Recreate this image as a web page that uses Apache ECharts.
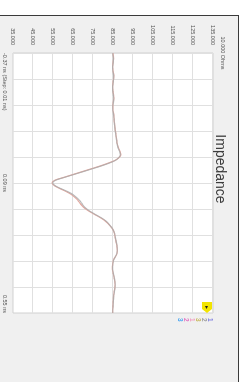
<!DOCTYPE html>
<html><head><meta charset="utf-8">
<script src="https://cdn.jsdelivr.net/npm/echarts@6/dist/echarts.min.js"></script>
<style>
html,body{margin:0;padding:0;background:#fff;width:247px;height:382px;overflow:hidden}
#rot{position:absolute;left:0;top:0;width:382px;height:247px;transform-origin:0 0;transform:translate(247px,0) rotate(90deg);background:#fff}
#panel{position:absolute;left:15px;top:8px;width:400px;height:300px;background:#f0f0f0;border-left:1.5px solid #3a3a3a;border-top:1.5px solid #3a3a3a}
#chart{position:absolute;left:0;top:0;width:382px;height:247px}
</style></head><body>
<div id="rot"><div id="panel"></div><div id="chart"></div></div>
<script>
const TITLE = 'Impedance';
const Y_NAME = '10.000 Ohms';
const STEPS = 92;            // number of 0.01 ns steps across the trace
const OHM_MIN = 35, OHM_MAX = 135, OHM_DIV = 10;
const X_TICK_LABELS = ['-0.37 ns (Step: 0.01 ns)', '0.09 ns', '0.55 ns'];
const X_TICK_STEPS = [0, 46, 92];

const traceA = [
 85.0, 85.2, 85.3, 85.1, 84.9, 84.8, 85.0, 85.2, 85.4, 85.3,
 85.1, 84.9, 84.8, 84.9, 85.1, 85.3, 85.4, 85.2, 85.0, 84.9,
 85.0, 85.2, 85.4, 85.5, 85.6, 85.8, 85.9, 86.1, 86.3, 86.5,
 86.7, 86.9, 87.1, 87.5, 88.0, 88.6, 88.9, 88.0, 86.0, 82.5,
 78.5, 74.0, 69.5, 65.0, 60.5, 56.0, 54.5, 55.8, 58.5, 61.5,
 64.0, 65.8, 67.3, 68.3, 69.5, 71.0, 73.0, 75.5, 78.0, 80.3,
 82.0, 83.3, 84.5, 85.3, 85.8, 86.0, 86.3, 86.6, 86.9, 87.1,
 87.2, 87.0, 86.3, 85.4, 85.0, 84.8, 84.7, 84.8, 85.1, 85.4,
 85.7, 85.9, 86.0, 85.9, 85.7, 85.5, 85.3, 85.2, 85.1, 85.0,
 84.9, 84.8, 84.8
];
const traceB = [
 84.9, 85.0, 85.2, 85.2, 85.0, 84.8, 84.9, 85.1, 85.3, 85.4,
 85.2, 85.0, 84.8, 84.8, 85.0, 85.2, 85.4, 85.3, 85.1, 84.9,
 84.9, 85.1, 85.3, 85.5, 85.6, 85.7, 85.9, 86.0, 86.2, 86.4,
 86.6, 86.8, 87.0, 87.3, 87.8, 88.4, 88.7, 87.9, 86.2, 83.0,
 79.0, 74.6, 70.0, 65.4, 60.8, 56.4, 54.8, 56.2, 59.0, 62.2,
 64.8, 66.6, 68.1, 69.2, 70.2, 71.6, 73.5, 75.9, 78.4, 80.6,
 82.3, 83.5, 84.6, 85.4, 85.9, 86.1, 86.4, 86.7, 87.0, 87.1,
 87.1, 86.9, 86.2, 85.5, 85.1, 84.9, 84.8, 84.9, 85.2, 85.5,
 85.8, 86.0, 86.1, 86.0, 85.8, 85.6, 85.4, 85.3, 85.2, 85.1,
 85.0, 84.9, 84.9
];
const legendLabels = ['1', '2', '3', '1', '2', '3'];
const legendColors = ['#7f7fe0', '#9a9a9a', '#c8b860', '#f0a0c0', '#e070c0', '#50a8f0'];

const FONT = 'Liberation Sans, Arial, sans-serif';
const toPairs = arr => arr.map((v, i) => [i, v - OHM_MIN]);

const chart = echarts.init(document.getElementById('chart'), null, {width: 382, height: 247, renderer: 'canvas'});

const legendGraphics = legendLabels.map((t, i) => ({
  type: 'text', left: 318, top: 34 + i * 6,
  style: {text: t, fill: legendColors[i], font: 'bold 6.5px ' + FONT}
}));

chart.setOption({
  animation: false,
  backgroundColor: 'transparent',
  title: {
    text: TITLE, left: 164, top: 15, textAlign: 'center',
    textStyle: {fontSize: 14, fontWeight: 'normal', color: '#3c3c3c', fontFamily: FONT}
  },
  grid: {left: 53, top: 34, width: 260, height: 200, show: true,
         backgroundColor: '#ffffff', borderColor: '#d0d0d0', borderWidth: 1},
  xAxis: {
    type: 'value', min: 0, max: STEPS, interval: STEPS / 10,
    axisLine: {show: false}, axisTick: {show: false},
    splitLine: {show: true, lineStyle: {color: '#e0e0e0', width: 1}},
    axisLabel: {
      fontSize: 5.5, color: '#555', margin: 5, fontFamily: FONT,
      alignMinLabel: 'left', alignMaxLabel: 'right',
      formatter: v => {
        for (let i = 0; i < X_TICK_STEPS.length; i++) {
          if (Math.abs(v - X_TICK_STEPS[i]) < 0.01) return X_TICK_LABELS[i];
        }
        return '';
      }
    }
  },
  yAxis: {
    type: 'value', min: 0, max: OHM_MAX - OHM_MIN, interval: OHM_DIV,
    name: Y_NAME, nameLocation: 'end', nameGap: 7,
    nameTextStyle: {fontSize: 5.5, color: '#555', fontFamily: FONT},
    axisLine: {show: false}, axisTick: {show: false},
    splitLine: {show: true, lineStyle: {color: '#e0e0e0', width: 1}},
    axisLabel: {fontSize: 5.5, color: '#555', margin: 8, fontFamily: FONT,
      formatter: v => (v + OHM_MIN).toFixed(3)}
  },
  graphic: legendGraphics.concat([
    {type: 'polygon', shape: {points: [[302, 35], [309, 35], [313, 40], [309, 45], [302, 45]]},
     style: {fill: '#f2e400'}},
    {type: 'text', left: 306, top: 37, style: {text: '▸', fill: '#222', font: '6px ' + FONT}}
  ]),
  series: [
    {type: 'line', name: 'A', data: toPairs(traceA), showSymbol: false, smooth: 0.3,
     lineStyle: {color: '#e2a8a0', width: 1.2}},
    {type: 'line', name: 'B', data: toPairs(traceB), showSymbol: false, smooth: 0.3,
     lineStyle: {color: '#ababab', width: 1.1, opacity: 0.85}}
  ]
});
</script>
</body></html>
